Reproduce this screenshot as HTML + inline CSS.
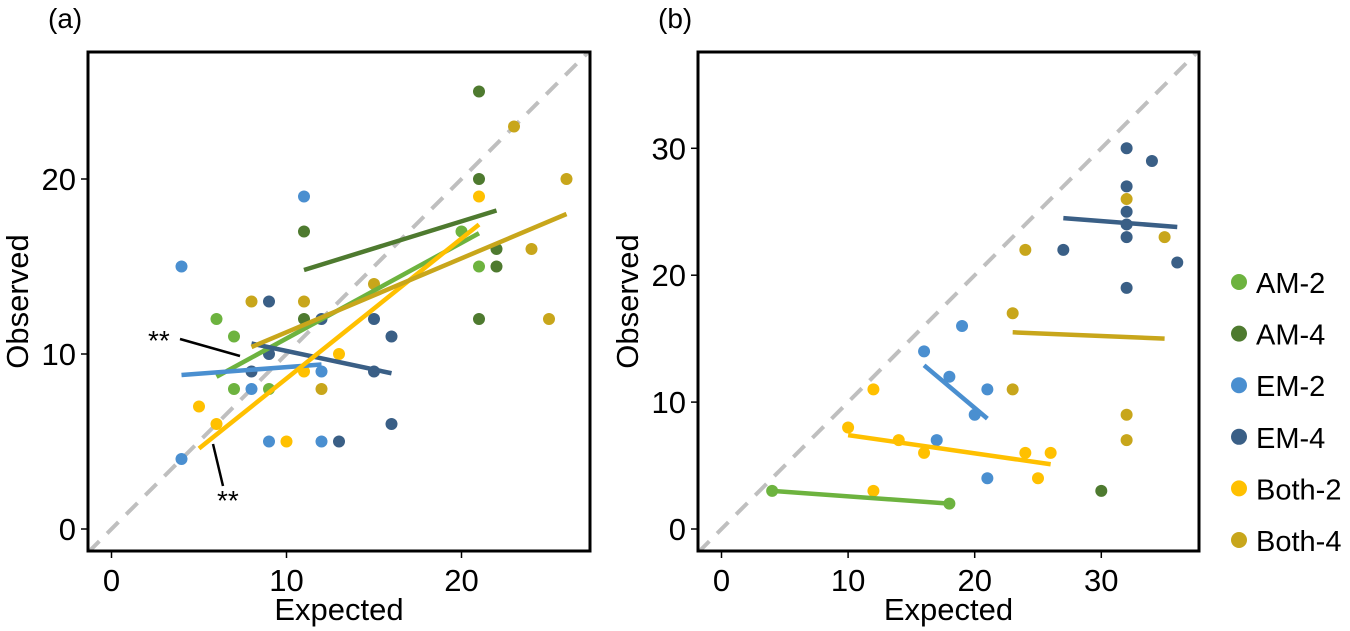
<!DOCTYPE html>
<html><head><meta charset="utf-8"><style>
body{margin:0;background:#fff;}
svg{display:block;font-family:"Liberation Sans",Arial,sans-serif;}
</style></head><body>
<svg id="chart" width="1350" height="631" viewBox="0 0 1350 631" xmlns="http://www.w3.org/2000/svg"></svg>
<script>
const groups = ["AM-2","AM-4","EM-2","EM-4","Both-2","Both-4"];
const colors = ["#6db33f","#4e7a2f","#4a8fd0","#3a5f86","#ffc000","#c8a61b"];
// Panel (a) points per group: [expected, observed]
const aAM2 = [[6,12],[7,11],[7,8],[9,8],[20,17],[21,15]];
const aAM4 = [[21,25],[21,20],[11,17],[11,12],[22,16],[22,15],[21,12]];
const aEM2 = [[4,15],[4,4],[11,19],[9,5],[12,5],[12,9],[8,8]];
const aEM4 = [[9,13],[9,10],[8,9],[12,12],[15,12],[15,9],[16,11],[16,6],[13,5]];
const aBoth2 = [[5,7],[6,6],[10,5],[11,9],[13,10],[21,19]];
const aBoth4 = [[8,13],[11,13],[12,8],[15,14],[23,23],[26,20],[24,16],[25,12]];
// Panel (a) fitted lines [x1,y1,x2,y2]
const aFits = [[6,8.7,21,16.9],[11,14.8,22,18.2],[4,8.8,12,9.4],[8,10.6,16,8.9],[5,4.6,21,17.4],[8,10.4,26,18.0]];
// Panel (b)
const bAM2 = [[4,3],[18,2]];
const bAM4 = [[30,3]];
const bEM2 = [[16,14],[19,16],[18,12],[21,11],[20,9],[17,7],[21,4]];
const bEM4 = [[32,30],[34,29],[32,27],[32,25],[32,24],[32,23],[27,22],[36,21],[32,19]];
const bBoth2 = [[12,11],[10,8],[14,7],[16,6],[24,6],[26,6],[25,4],[12,3]];
const bBoth4 = [[24,22],[32,26],[35,23],[23,17],[23,11],[32,9],[32,7]];
const bFits = [[4,3,18,2],null,[16,12.9,21,8.7],[27,24.5,36,23.8],[10,7.4,26,5.1],[23,15.5,35,15.0]];
const aTicks = [0,10,20];
const bXTicks = [0,10,20,30];
const bYTicks = [0,10,20,30];

const NS="http://www.w3.org/2000/svg";
const svg=document.getElementById('chart');
function mk(tag,attrs,parent){const e=document.createElementNS(NS,tag);for(const k in attrs)e.setAttribute(k,attrs[k]);(parent||svg).appendChild(e);return e;}

function panel(cfg){
  const {L,R,T,B,x0,xs,y0,ys,pts,fits,xt,yt,label,id}=cfg;
  const X=v=>x0+v*xs, Y=v=>y0-v*ys;
  const g=mk('g',{});
  
  
  const clip=mk('clipPath',{id:'clip'+id},g);
  mk('rect',{x:L,y:T,width:R-L,height:B-T},clip);
  const plot=mk('g',{'clip-path':'url(#clip'+id+')'},g);
  const vmin=Math.min((L-x0)/xs,(y0-B)/ys), vmax=Math.max((R-x0)/xs,(y0-T)/ys);
  const d=mk('line',{x1:X(vmin),y1:Y(vmin),x2:X(vmax),y2:Y(vmax),stroke:'#bfbfbf','stroke-width':4,'stroke-dasharray':'16 11'},plot);
  
  
  pts.forEach((arr,gi)=>{
    arr.forEach(p=>{
      const c=mk('circle',{cx:X(p[0]),cy:Y(p[1]),r:6,fill:colors[gi]},plot);
      
      
    });
  });
  fits.forEach((f,gi)=>{
    if(!f)return;
    const l=mk('line',{x1:X(f[0]),y1:Y(f[1]),x2:X(f[2]),y2:Y(f[3]),stroke:colors[gi],'stroke-width':4.5},plot);
    
    
  });
  const fr=mk('rect',{x:L,y:T,width:R-L,height:B-T,fill:'none',stroke:'#000','stroke-width':3},g);
  
  
  xt.forEach(v=>{
    mk('line',{x1:X(v),y1:B,x2:X(v),y2:B+7,stroke:'#000','stroke-width':1.5},g);
    const t=mk('text',{x:X(v),y:B+40,'font-size':31,'text-anchor':'middle'},g);
    t.textContent=v;
    
    
  });
  yt.forEach(v=>{
    mk('line',{x1:L-7,y1:Y(v),x2:L,y2:Y(v),stroke:'#000','stroke-width':1.5},g);
    const t=mk('text',{x:L-12,y:Y(v)+11,'font-size':31,'text-anchor':'end'},g);
    t.textContent=v;
    
    
  });
  const xtl=mk('text',{x:(L+R)/2,y:620,'font-size':31,'text-anchor':'middle'},g);
  xtl.textContent='Expected';
  
  
  const ytl=mk('text',{x:0,y:0,'font-size':31,'text-anchor':'middle',transform:`translate(${L-60},${(T+B)/2}) rotate(-90)`},g);
  ytl.textContent='Observed';
  
  
  const pl=mk('text',{x:L-40,y:28,'font-size':28},g);
  pl.textContent=label;
  
  
  return {X,Y,g};
}

const pa=panel({id:'a',L:88,R:590,T:52,B:551,x0:111.5,xs:17.5,y0:529,ys:17.5,
  pts:[aAM2,aAM4,aEM2,aEM4,aBoth2,aBoth4],fits:aFits,xt:aTicks,yt:aTicks,label:'(a)'});
const pb=panel({id:'b',L:698,R:1199,T:52,B:551,x0:721.5,xs:12.66,y0:529,ys:12.69,
  pts:[bAM2,bAM4,bEM2,bEM4,bBoth2,bBoth4],fits:bFits,xt:bXTicks,yt:bYTicks,label:'(b)'});

const a1=mk('text',{x:148,y:350,'font-size':28},pa.g);
a1.textContent='**';


mk('line',{x1:180,y1:339,x2:240,y2:356,stroke:'#000','stroke-width':2.5},pa.g);
const a2=mk('text',{x:217,y:510,'font-size':28},pa.g);
a2.textContent='**';


mk('line',{x1:213,y1:444,x2:223,y2:486,stroke:'#000','stroke-width':2.5},pa.g);

const leg=mk('g',{});


groups.forEach((n,i)=>{
  const y=282+i*51.6;
  const e=mk('g',{},leg);
  
  
  mk('circle',{cx:1239,cy:y,r:8,fill:colors[i]},e);
  const t=mk('text',{x:1256,y:y+11,'font-size':29},e);
  t.textContent=n;
});
</script>
</body></html>
